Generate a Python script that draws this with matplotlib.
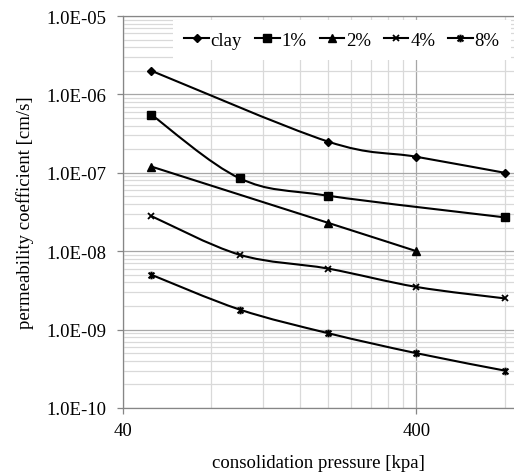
import numpy as np
import matplotlib
matplotlib.use('Agg')
import matplotlib.pyplot as plt
from matplotlib.path import Path
from matplotlib.patches import PathPatch
from matplotlib.lines import Line2D
from matplotlib.ticker import FixedLocator, FuncFormatter, NullFormatter

plt.rcParams['font.family'] = ['Liberation Serif', 'DejaVu Serif']

# pressure [kpa] and permeability [cm/s]
clay_x = [50, 200, 400, 800]
clay_y = [2.0e-6, 2.5e-7, 1.6e-7, 1.0e-7]
p1_x = [50, 100, 200, 800]
p1_y = [5.5e-7, 8.5e-8, 5.1e-8, 2.7e-8]
p2_x = [50, 200, 400]
p2_y = [1.2e-7, 2.3e-8, 1.0e-8]
p4_x = [50, 100, 200, 400, 800]
p4_y = [2.8e-8, 9.0e-9, 6.0e-9, 3.5e-9, 2.5e-9]
p8_x = [50, 100, 200, 400, 800]
p8_y = [5.0e-9, 1.8e-9, 9.0e-10, 5.0e-10, 3.0e-10]

labels = ['clay', '1%', '2%', '4%', '8%']
y_ticks = [1e-10, 1e-9, 1e-8, 1e-7, 1e-6, 1e-5]
x_ticks = [40, 400]

star = Path([(-1, -1), (1, 1), (-1, 1), (1, -1), (0, -1.3), (0, 1.3)],
            [Path.MOVETO, Path.LINETO, Path.MOVETO, Path.LINETO, Path.MOVETO, Path.LINETO])
styles = [dict(marker='D', ms=4.3, mew=1),
          dict(marker='s', ms=5.2, mew=1),
          dict(marker='^', ms=5.5, mew=1),
          dict(marker='x', ms=4.5, mew=1.3),
          dict(marker=star, ms=5.5, mew=1.5)]


def smooth_path(xs, ys):
    # excel-style smoothed line: bezier through the points, built in log space
    p = np.column_stack([np.log10(xs), np.log10(ys)])
    n = len(p)
    verts = [p[0]]
    codes = [Path.MOVETO]
    for i in range(n - 1):
        a = p[i - 1] if i > 0 else p[i]
        d = p[i + 2] if i + 2 < n else p[i + 1]
        c1 = p[i] + (p[i + 1] - a) / 6.0
        c2 = p[i + 1] - (d - p[i]) / 6.0
        verts += [c1, c2, p[i + 1]]
        codes += [Path.CURVE4] * 3
    return Path(10 ** np.array(verts), codes)


fig = plt.figure(figsize=(5.14, 4.77), dpi=100)
ax = fig.add_axes([123 / 514, 68 / 477, 1 - 123 / 514, 392 / 477])
ax.set_xscale('log')
ax.set_yscale('log')
ax.set_xlim(40, 860)
ax.set_ylim(1e-10, 1e-5)

series = [(clay_x, clay_y), (p1_x, p1_y), (p2_x, p2_y), (p4_x, p4_y), (p8_x, p8_y)]
handles = []
for (xs, ys), st, lab in zip(series, styles, labels):
    ax.add_patch(PathPatch(smooth_path(xs, ys), fill=False, edgecolor='black',
                           lw=1.5, zorder=3))
    ax.plot(xs, ys, ls='none', color='black', mfc='black', mec='black', zorder=4, **st)
    handles.append(Line2D([], [], color='black', lw=1.5, mfc='black', mec='black', **st))

ax.yaxis.set_major_locator(FixedLocator(y_ticks))
ax.yaxis.set_major_formatter(FuncFormatter(lambda v, pos: f'{v:.1E}'))
ax.yaxis.set_minor_locator(FixedLocator([m * 10.0 ** e for e in range(-10, -5) for m in range(2, 10)]))
ax.yaxis.set_minor_formatter(NullFormatter())
ax.xaxis.set_major_locator(FixedLocator(x_ticks))
ax.xaxis.set_major_formatter(FuncFormatter(lambda v, pos: f'{v:g}'))
ax.xaxis.set_minor_locator(FixedLocator([40 * k for k in range(2, 10)] + [800]))
ax.xaxis.set_minor_formatter(NullFormatter())

ax.grid(True, which='major', color='#a6a6a6', lw=0.9)
ax.grid(True, which='minor', color='#d9d9d9', lw=0.9)
ax.set_axisbelow(True)
ax.tick_params(which='major', direction='out', length=4, width=0.9, color='#868686',
               labelsize=13.5, pad=8)
ax.tick_params(axis='x', which='major', pad=6)
ax.tick_params(which='minor', length=0)
for side in ['left', 'bottom', 'top']:
    ax.spines[side].set_color('#868686')
    ax.spines[side].set_linewidth(0.9)
ax.spines['right'].set_visible(False)

ax.set_xlabel('consolidation pressure [kpa]', fontsize=13.5, labelpad=11)
ax.set_ylabel('permeability coefficient [cm/s]', fontsize=13.5, labelpad=9)

leg = ax.legend(handles, labels, loc='center', bbox_to_anchor=(0.56, 0.938), ncol=5,
                fontsize=13.5, handlelength=1.3, handletextpad=0.1, columnspacing=0.7,
                borderpad=0.6, frameon=True, fancybox=False, framealpha=1)
leg.get_frame().set_facecolor('white')
leg.get_frame().set_edgecolor('none')

fig.savefig('out.png', dpi=100)
